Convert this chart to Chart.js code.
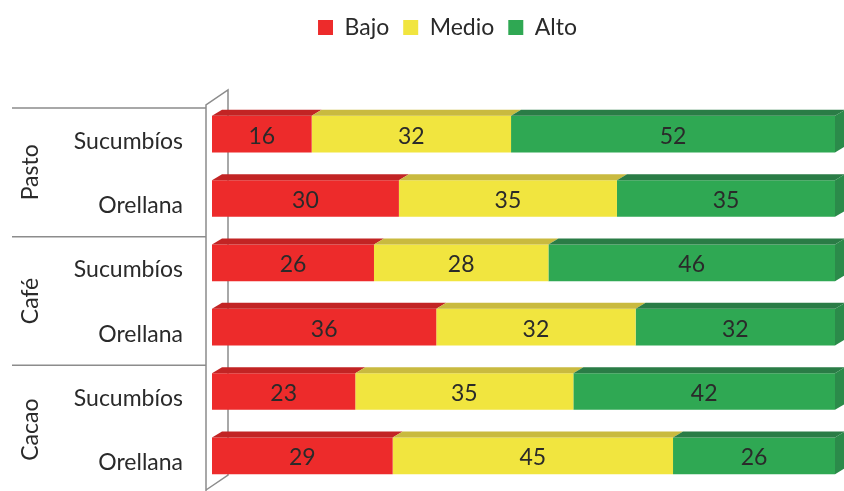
<!DOCTYPE html>
<html>
<head>
<meta charset="utf-8">
<script src="https://cdn.jsdelivr.net/npm/chart.js@4"></script>
<style>
  html, body { margin: 0; padding: 0; background: #ffffff; }
  canvas { display: block; }
</style>
</head>
<body>
<canvas id="chart" width="844" height="491"></canvas>
<script>
// Categorías: cultivo (grupo) y provincia
const cultivos = ["Pasto", "Café", "Cacao"];
const provincias = ["Sucumbíos", "Orellana", "Sucumbíos", "Orellana", "Sucumbíos", "Orellana"];

// Porcentajes por nivel
const bajo = [16, 30, 26, 36, 23, 29];
const medio = [32, 35, 28, 32, 35, 45];
const alto = [52, 35, 46, 32, 42, 26];

const colores = ["#ed2b2b", "#f1e53f", "#2fa853"];
const coloresTapa = ["#c22424", "#c9ba3f", "#2a7c46"];
const colorLado = "#2b8b4a";

const FUENTE = "Lato, 'Open Sans', sans-serif";
const TEXTO = "#2a2a2a";
const LINEA = "#8c8c8c";
const PROF = { dx: 10, dy: -6 };

// Caras superiores y lateral de las barras, más las etiquetas de valor
const barras3d = {
    id: "barras3d",
    afterDatasetsDraw(chart) {
        const ctx = chart.ctx;
        const ultimo = chart.data.datasets.length - 1;
        ctx.save();
        chart.data.datasets.forEach((ds, di) => {
            chart.getDatasetMeta(di).data.forEach((bar) => {
                const { x, y, base, height } = bar.getProps(["x", "y", "base", "height"], true);
                const top = y - height / 2;
                const bottom = y + height / 2;

                ctx.fillStyle = coloresTapa[di];
                ctx.beginPath();
                ctx.moveTo(base, top);
                ctx.lineTo(x, top);
                ctx.lineTo(x + PROF.dx, top + PROF.dy);
                ctx.lineTo(base + PROF.dx, top + PROF.dy);
                ctx.closePath();
                ctx.fill();

                if (di === ultimo) {
                    ctx.fillStyle = colorLado;
                    ctx.beginPath();
                    ctx.moveTo(x, top);
                    ctx.lineTo(x + PROF.dx, top + PROF.dy);
                    ctx.lineTo(x + PROF.dx, bottom + PROF.dy);
                    ctx.lineTo(x, bottom);
                    ctx.closePath();
                    ctx.fill();
                }
            });
        });

        ctx.fillStyle = TEXTO;
        ctx.font = "23px " + FUENTE;
        ctx.textAlign = "center";
        ctx.textBaseline = "middle";
        chart.data.datasets.forEach((ds, di) => {
            chart.getDatasetMeta(di).data.forEach((bar, i) => {
                const { x, y, base } = bar.getProps(["x", "y", "base"], true);
                ctx.fillText(ds.data[i], (base + x) / 2, y + 2);
            });
        });
        ctx.restore();
    }
};

// Paredes del gráfico, separadores y nombres de cultivo
const marco = {
    id: "marco",
    beforeDatasetsDraw(chart) {
        const { ctx, chartArea } = chart;
        const L = chartArea.left, T = chartArea.top, B = chartArea.bottom;
        const yScale = chart.scales.y;
        const banda = yScale.getPixelForValue(1) - yScale.getPixelForValue(0);

        ctx.save();
        ctx.strokeStyle = LINEA;
        ctx.lineWidth = 1.5;
        ctx.beginPath();
        ctx.moveTo(L - 6, chart.height);
        ctx.lineTo(L - 6, T + 3);
        ctx.lineTo(L + 16, T - 12);
        ctx.lineTo(L + 16, B - 13);
        ctx.lineTo(L - 6, B + 2);
        ctx.stroke();

        const seps = [];
        for (let k = 0; k <= cultivos.length; k++) {
            seps.push(T + k * 2 * banda + 6);
        }
        ctx.beginPath();
        seps.forEach((sy) => {
            ctx.moveTo(12, sy);
            ctx.lineTo(L - 6, sy);
        });
        ctx.stroke();

        ctx.fillStyle = TEXTO;
        ctx.font = "23px " + FUENTE;
        ctx.textAlign = "center";
        ctx.textBaseline = "middle";
        cultivos.forEach((c, k) => {
            ctx.save();
            ctx.translate(31, (seps[k] + seps[k + 1]) / 2);
            ctx.rotate(-Math.PI / 2);
            ctx.fillText(c, 0, 0);
            ctx.restore();
        });
        ctx.restore();
    }
};

// Altura fija de la leyenda y desplazamiento horizontal
const leyendaFija = {
    id: "leyendaFija",
    beforeInit(chart) {
        const fit = chart.legend.fit;
        chart.legend.fit = function () {
            fit.bind(chart.legend)();
            this.height = 100;
        };
    },
    afterLayout(chart) {
        chart.legend.left += 30;
        chart.legend.right += 30;
    }
};

new Chart(document.getElementById("chart"), {
    type: "bar",
    data: {
        labels: provincias,
        datasets: [
            { label: "Bajo", data: bajo, backgroundColor: colores[0] },
            { label: "Medio", data: medio, backgroundColor: colores[1] },
            { label: "Alto", data: alto, backgroundColor: colores[2] }
        ]
    },
    options: {
        indexAxis: "y",
        responsive: false,
        animation: false,
        events: [],
        layout: { padding: { top: 2, right: 9, bottom: 3, left: 0 } },
        datasets: { bar: { categoryPercentage: 1, barPercentage: 0.57 } },
        scales: {
            x: { stacked: true, min: 0, max: 100, display: false },
            y: {
                stacked: true,
                grid: { display: false, drawTicks: false },
                border: { display: false },
                ticks: {
                    padding: 29,
                    labelOffset: 7,
                    color: TEXTO,
                    font: { family: FUENTE, size: 23 }
                },
                afterFit(scale) {
                    scale.width = 212;
                    scale.paddingTop = 0;
                    scale.paddingBottom = 0;
                }
            }
        },
        plugins: {
            legend: {
                position: "top",
                labels: {
                    boxWidth: 15,
                    boxHeight: 15,
                    padding: 14,
                    color: TEXTO,
                    font: { family: FUENTE, size: 23 }
                }
            },
            tooltip: { enabled: false }
        }
    },
    plugins: [leyendaFija, marco, barras3d]
});
</script>
</body>
</html>
